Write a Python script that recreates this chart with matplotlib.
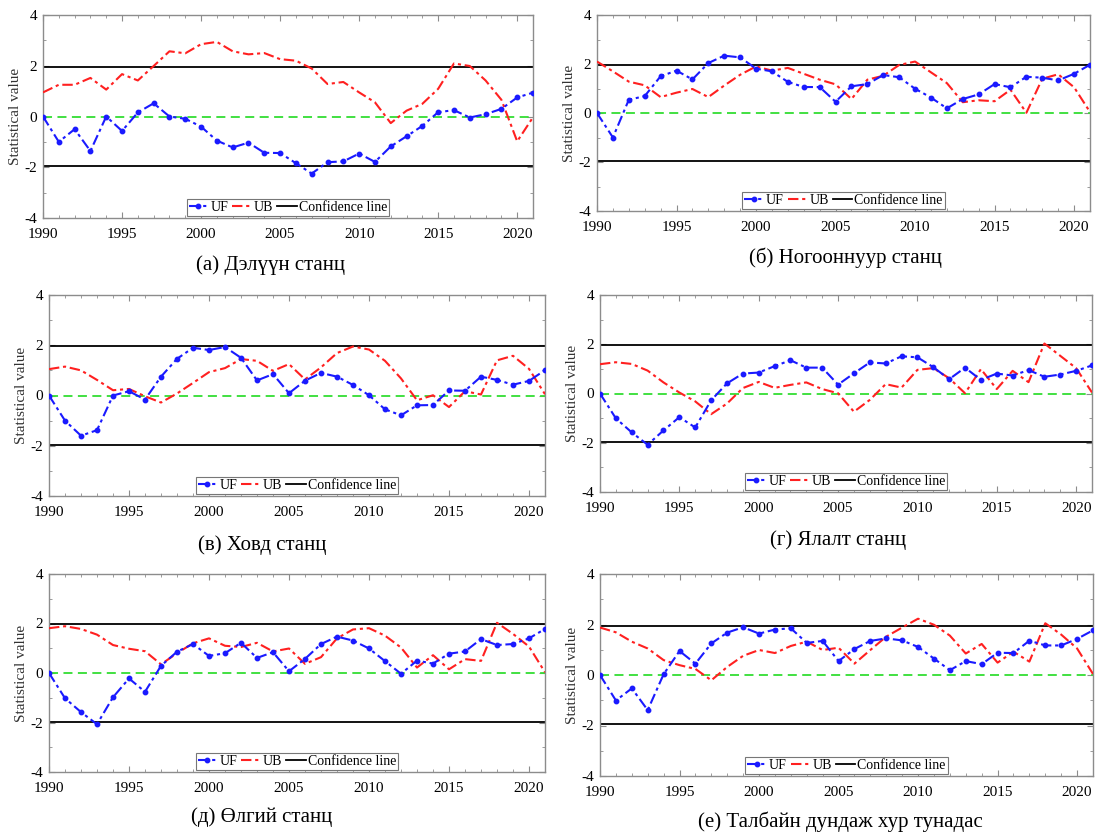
import matplotlib
matplotlib.use("Agg")
import matplotlib.pyplot as plt
from matplotlib.ticker import MultipleLocator
import numpy as np

plt.rcParams['font.family'] = ['Liberation Serif', 'DejaVu Serif']
plt.rcParams['axes.unicode_minus'] = False

years = list(range(1990, 2022))

captions = [
    "(а) Дэлүүн станц",
    "(б) Ногооннуур станц",
    "(в) Ховд станц",
    "(г) Ялалт станц",
    "(д) Өлгий станц",
    "(е) Талбайн дундаж хур тунадас",
]

uf_delgun = [0, -1.0, -0.5, -1.36, 0.0, -0.57, 0.16, 0.52, 0.0, -0.09, -0.4, -0.95, -1.22, -1.03, -1.43,
             -1.44, -1.84, -2.25, -1.8, -1.77, -1.46, -1.79, -1.18, -0.78, -0.37, 0.17, 0.25, -0.04, 0.09,
             0.3, 0.75, 0.94]
ub_delgun = [0.95, 1.25, 1.25, 1.52, 1.06, 1.67, 1.42, 1.99, 2.57, 2.49, 2.85, 2.94, 2.57, 2.45, 2.5,
             2.26, 2.2, 1.89, 1.28, 1.36, 0.95, 0.56, -0.26, 0.23, 0.5, 1.09, 2.09, 1.99, 1.42, 0.66,
             -0.98, -0.03]

uf_nogoonnuur = [0, -1.0, 0.54, 0.69, 1.5, 1.73, 1.37, 2.04, 2.34, 2.27, 1.81, 1.7, 1.27, 1.06, 1.06,
                 0.46, 1.09, 1.18, 1.55, 1.46, 0.99, 0.63, 0.19, 0.57, 0.76, 1.18, 1.05, 1.48, 1.44,
                 1.33, 1.6, 1.97]
ub_nogoonnuur = [2.1, 1.7, 1.28, 1.13, 0.65, 0.83, 0.98, 0.65, 1.12, 1.56, 1.9, 1.73, 1.84, 1.6, 1.36,
                 1.17, 0.57, 1.36, 1.52, 1.96, 2.1, 1.66, 1.22, 0.44, 0.52, 0.48, 0.95, 0.01, 1.4, 1.58,
                 1.05, 0.04]

uf_khovd = [0, -1.0, -1.6, -1.38, 0.0, 0.17, -0.16, 0.75, 1.46, 1.9, 1.81, 1.93, 1.5, 0.6, 0.85,
            0.09, 0.59, 0.9, 0.75, 0.42, 0.01, -0.55, -0.79, -0.39, -0.38, 0.2, 0.19, 0.75, 0.62, 0.43,
            0.58, 1.01]
ub_khovd = [1.05, 1.15, 1.0, 0.62, 0.21, 0.26, -0.03, -0.28, 0.08, 0.5, 0.93, 1.09, 1.45, 1.38, 0.98,
            1.25, 0.64, 1.12, 1.69, 1.95, 1.83, 1.38, 0.68, -0.19, 0.01, -0.46, 0.17, 0.04, 1.4, 1.58,
            1.06, 0.05]

uf_yalalt = [0, -1.01, -1.58, -2.08, -1.5, -0.96, -1.38, -0.28, 0.41, 0.81, 0.85, 1.11, 1.35, 1.05, 1.05,
             0.36, 0.82, 1.26, 1.22, 1.51, 1.47, 1.07, 0.58, 1.05, 0.55, 0.81, 0.73, 0.95, 0.68, 0.77,
             0.92, 1.14]
ub_yalalt = [1.19, 1.27, 1.2, 0.93, 0.45, 0.04, -0.32, -0.84, -0.41, 0.22, 0.47, 0.23, 0.35, 0.45, 0.18,
             0.01, -0.74, -0.26, 0.38, 0.24, 0.96, 1.03, 0.62, 0.01, 0.99, 0.18, 0.92, 0.46, 2.03, 1.53,
             1.03, 0.04]

uf_olgii = [0, -1.02, -1.58, -2.07, -0.98, -0.22, -0.76, 0.29, 0.86, 1.17, 0.69, 0.8, 1.22, 0.61, 0.84,
            0.07, 0.57, 1.17, 1.47, 1.31, 0.99, 0.48, -0.03, 0.5, 0.38, 0.78, 0.87, 1.37, 1.13, 1.17,
            1.4, 1.78]
ub_olgii = [1.81, 1.89, 1.78, 1.55, 1.13, 0.98, 0.88, 0.35, 0.8, 1.2, 1.4, 1.1, 1.05, 1.22, 0.87,
            0.99, 0.37, 0.64, 1.4, 1.76, 1.81, 1.51, 1.03, 0.22, 0.72, 0.15, 0.56, 0.49, 2.03, 1.58,
            1.07, 0.03]

uf_average = [0, -1.01, -0.53, -1.39, 0.03, 0.95, 0.45, 1.25, 1.68, 1.89, 1.64, 1.8, 1.85, 1.27, 1.35,
              0.55, 1.03, 1.35, 1.45, 1.37, 1.11, 0.65, 0.19, 0.55, 0.43, 0.88, 0.87, 1.36, 1.17, 1.17,
              1.43, 1.77]
ub_average = [1.88, 1.69, 1.32, 1.05, 0.59, 0.39, 0.24, -0.21, 0.32, 0.76, 0.99, 0.87, 1.15, 1.32, 0.99,
              1.08, 0.45, 0.99, 1.52, 1.88, 2.23, 1.99, 1.56, 0.85, 1.23, 0.49, 0.92, 0.53, 2.05, 1.6,
              1.05, 0.04]

uf_series = [uf_delgun, uf_nogoonnuur, uf_khovd, uf_yalalt, uf_olgii, uf_average]
ub_series = [ub_delgun, ub_nogoonnuur, ub_khovd, ub_yalalt, ub_olgii, ub_average]
confidence = 1.96
legend_labels = ["UF", "UB", "Confidence line"]

W, H = 1095, 835
fig = plt.figure(figsize=(W / 100, H / 100), dpi=100)

# panel boxes in pixels: left, right, top, bottom
boxes = [
    (43, 533, 15, 218),
    (597, 1090, 15, 211),
    (49, 545, 295, 496),
    (600, 1092, 295, 492),
    (49, 545, 574, 772),
    (600, 1093, 574, 776),
]
caption_pos = [
    (270, 265), (845, 258),
    (262, 545), (838, 540),
    (262, 817), (840, 822),
]

spine_col = '#8c8c8c'
dashdot = (0, (5, 1.8, 1.5, 1.8))

for i, (l, r, t, b) in enumerate(boxes):
    ax = fig.add_axes([l / W, 1 - b / H, (r - l) / W, (b - t) / H])
    ax.axhline(confidence, color='black', lw=1.3, zorder=2)
    ax.axhline(-confidence, color='black', lw=1.3, zorder=2)
    ax.axhline(0, color='#33dd33', lw=1.3, ls=(0, (5, 3)), zorder=2)
    l_uf, = ax.plot(years, uf_series[i], color='#1a1aff', lw=1.5, ls=dashdot,
                    marker='o', ms=3.2, zorder=4)
    l_ub, = ax.plot(years, ub_series[i], color='#ff2020', lw=1.5, ls=dashdot, zorder=3)
    l_cl, = ax.plot([], [], color='black', lw=1.3)
    ax.set_xlim(1990, 2021)
    ax.set_ylim(-4, 4)
    ax.xaxis.set_major_locator(MultipleLocator(5))
    ax.xaxis.set_minor_locator(MultipleLocator(1))
    ax.yaxis.set_major_locator(MultipleLocator(2))
    ax.yaxis.set_minor_locator(MultipleLocator(1))
    ax.tick_params(which='both', direction='in', top=True, right=True, color=spine_col)
    ax.tick_params(which='major', length=4, labelsize=11)
    ax.tick_params(axis='x', which='major', pad=7)
    ax.tick_params(axis='y', which='major', pad=4)
    ax.tick_params(which='minor', length=2)
    for sp in ax.spines.values():
        sp.set_color(spine_col)
        sp.set_linewidth(1.0)
    ax.set_ylabel("Statistical value", fontsize=11, color='#333333', labelpad=2)
    leg = ax.legend([l_uf, l_ub, l_cl], legend_labels, loc='lower center', ncol=3,
                    fontsize=10, handlelength=1.4, handletextpad=0.15, columnspacing=0.3,
                    borderpad=0.15, borderaxespad=0.15, fancybox=False, framealpha=1)
    leg.get_frame().set_edgecolor('#777777')
    leg.get_frame().set_linewidth(0.8)
    cx, cy = caption_pos[i]
    fig.text(cx / W, 1 - cy / H, captions[i], ha='center', va='center', fontsize=15)

fig.savefig("out.png", dpi=100)
